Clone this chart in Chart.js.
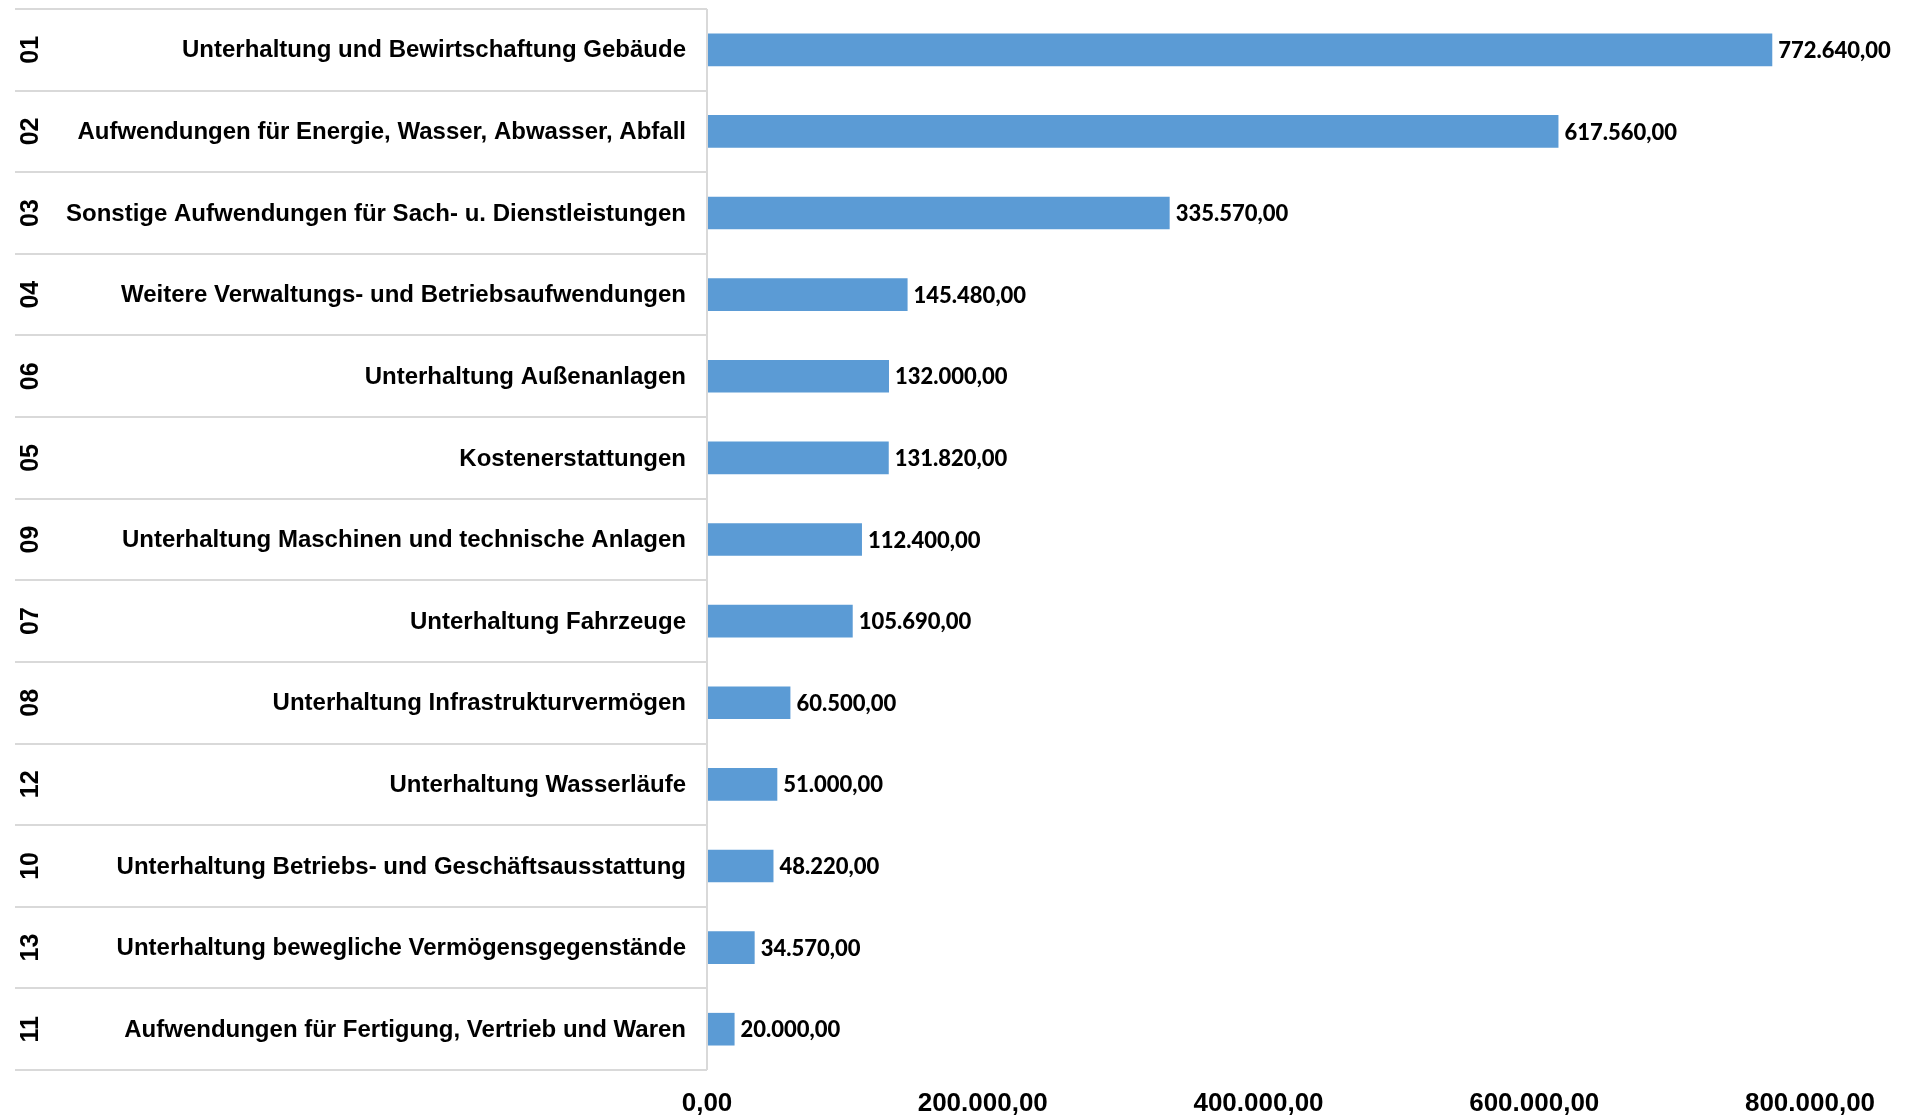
<!DOCTYPE html>
<html>
<head>
<meta charset="utf-8">
<script src="https://cdn.jsdelivr.net/npm/chart.js@4"></script>
<style>
  body { margin: 0; background: #fff; }
  #wrap { width: 1907px; height: 1118px; position: relative; }
</style>
</head>
<body>
<div id="wrap"><canvas id="chart"></canvas></div>
<script>
// Kostenarten, Reihenfolge wie im Diagramm (von oben nach unten)
const codes = ["01", "02", "03", "04", "06", "05", "09", "07", "08", "12", "10", "13", "11"];
const names = [
    "Unterhaltung und Bewirtschaftung Gebäude",
    "Aufwendungen für Energie, Wasser, Abwasser, Abfall",
    "Sonstige Aufwendungen für Sach- u. Dienstleistungen",
    "Weitere Verwaltungs- und Betriebsaufwendungen",
    "Unterhaltung Außenanlagen",
    "Kostenerstattungen",
    "Unterhaltung Maschinen und technische Anlagen",
    "Unterhaltung Fahrzeuge",
    "Unterhaltung Infrastrukturvermögen",
    "Unterhaltung Wasserläufe",
    "Unterhaltung Betriebs- und Geschäftsausstattung",
    "Unterhaltung bewegliche Vermögensgegenstände",
    "Aufwendungen für Fertigung, Vertrieb und Waren"
];
const amounts = [772640, 617560, 335570, 145480, 132000, 131820, 112400, 105690, 60500, 51000, 48220, 34570, 20000];
const xTicks = [0, 200000, 400000, 600000, 800000];

const barColor = "#5b9bd5";
const lineColor = "#d9d9d9";
const arialFont = "'Liberation Sans', Arial, sans-serif";

function formatDE(v) {
    const parts = Math.round(v).toString().replace(/\B(?=(\d{3})+(?!\d))/g, ".");
    return parts + ",00";
}

// Codes links (gedreht), Namen, Trennlinien, Werte an den Balken
const extrasPlugin = {
    id: "extras",
    afterDraw(chart) {
        const ctx = chart.ctx;
        const yScale = chart.scales.y;
        const area = chart.chartArea;
        const meta = chart.getDatasetMeta(0);
        const step = yScale.getPixelForValue(1) - yScale.getPixelForValue(0);

        ctx.save();
        ctx.strokeStyle = lineColor;
        ctx.lineWidth = 2;
        for (let i = 0; i <= codes.length; i++) {
            const y = Math.round(yScale.getPixelForValue(i) - step / 2);
            ctx.beginPath();
            ctx.moveTo(15, y);
            ctx.lineTo(area.left, y);
            ctx.stroke();
        }
        ctx.beginPath();
        ctx.moveTo(area.left, yScale.getPixelForValue(0) - step / 2);
        ctx.lineTo(area.left, yScale.getPixelForValue(codes.length - 1) + step / 2);
        ctx.stroke();

        ctx.fillStyle = "#000";
        ctx.textBaseline = "middle";

        ctx.font = "bold 25px " + arialFont;
        ctx.textAlign = "center";
        codes.forEach((c, i) => {
            ctx.save();
            ctx.translate(31, yScale.getPixelForValue(i));
            ctx.rotate(-Math.PI / 2);
            ctx.fillText(c, 0, 0);
            ctx.restore();
        });

        ctx.font = "bold 24px " + arialFont;
        ctx.textAlign = "right";
        names.forEach((n, i) => {
            ctx.fillText(n, area.left - 21, yScale.getPixelForValue(i) + 1);
        });

        ctx.font = "900 22px Lato, 'Open Sans', sans-serif";
        ctx.textAlign = "left";
        meta.data.forEach((bar, i) => {
            ctx.fillText(formatDE(amounts[i]), bar.x + 6, bar.y + 1);
        });
        ctx.restore();
    }
};

const chart = new Chart(document.getElementById("chart"), {
    type: "bar",
    data: {
        labels: names,
        datasets: [{
            data: amounts,
            backgroundColor: barColor,
            barPercentage: 0.4,
            categoryPercentage: 1
        }]
    },
    options: {
        indexAxis: "y",
        responsive: true,
        maintainAspectRatio: false,
        animation: false,
        layout: { padding: { top: 9, right: 97, bottom: 0, left: 0 } },
        plugins: {
            legend: { display: false },
            tooltip: { enabled: false }
        },
        scales: {
            x: {
                min: 0,
                max: 800000,
                afterBuildTicks: (scale) => { scale.ticks = xTicks.map(v => ({ value: v })); },
                afterFit: (scale) => { scale.height = 48; },
                grid: { display: false },
                border: { display: false },
                ticks: {
                    color: "#000",
                    padding: 10,
                    maxRotation: 0,
                    font: { family: arialFont, size: 26, weight: "bold" },
                    callback: (v) => formatDE(v)
                }
            },
            y: {
                afterFit: (scale) => { scale.width = 707; },
                grid: { display: false },
                border: { display: false },
                ticks: { display: false }
            }
        }
    },
    plugins: [extrasPlugin]
});
</script>
</body>
</html>
